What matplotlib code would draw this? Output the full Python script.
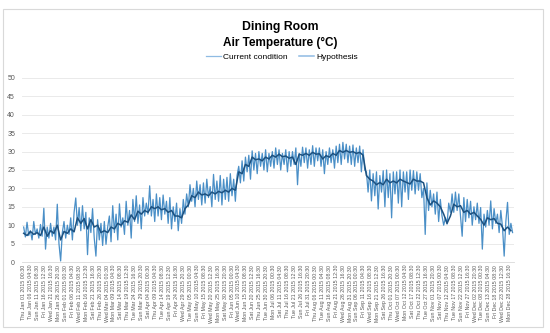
import numpy as np
import pandas as pd
import matplotlib
matplotlib.use("Agg")
import matplotlib.pyplot as plt
from matplotlib.patches import Rectangle

plt.rcParams['font.family'] = ['Liberation Sans', 'DejaVu Sans']

# values (highs and lows of the hourly trace)
cur_days = np.arange(0, 365, 1.25)
current = [9.5, 6.8, 10.8, 7.2, 8.5, 6.0, 11.0, 7.5, 9.0, 6.5, 10.2, 7.0, 14.6, 3.5, 9.5, 6.5,
           10.5, 7.0, 9.5, 6.0, 15.7, 5.0, 0.3, 8.0, 11.0, 6.5, 10.0, 7.5, 12.0, 6.0, 13.5, 17.4,
           10.0, 14.8, 8.5, 15.3, 9.0, 13.5, 2.0, 12.0, 8.0, 14.5, 6.5, 1.6, 11.5, 6.0, 10.5, 4.5,
           11.0, 4.8, 9.5, 12.5, 5.5, 15.3, 8.0, 13.0, 6.0, 15.8, 9.5, 12.0, 7.5, 16.5, 10.0, 14.0,
           6.5, 17.0, 11.0, 18.0, 10.5, 15.5, 9.0, 17.5, 12.5, 16.0, 13.0, 20.7, 12.5, 17.0, 11.0, 18.5,
           12.5, 17.5, 11.5, 18.2, 13.0, 16.5, 10.5, 17.5, 9.0, 15.0, 11.0, 16.0, 8.5, 14.5, 10.5, 17.0,
           13.0, 18.5, 15.0, 21.0, 16.5, 20.0, 15.0, 22.0, 17.0, 21.0, 15.5, 21.5, 16.0, 22.5, 17.5, 20.5,
           15.0, 23.8, 17.0, 22.0, 16.5, 23.5, 15.5, 22.5, 17.0, 23.0, 16.5, 24.0, 18.0, 22.5, 16.5, 23.5,
           26.0, 21.5, 27.5, 22.0, 28.5, 24.5, 29.0, 22.5, 30.2, 25.0, 29.5, 24.0, 30.0, 26.0, 29.5, 25.0,
           30.5, 24.5, 29.5, 26.0, 30.0, 25.5, 31.0, 26.5, 30.5, 25.0, 29.5, 26.5, 30.5, 24.5, 30.0, 26.0,
           30.0, 26.5, 31.0, 21.0, 29.5, 26.0, 31.2, 27.0, 31.0, 25.5, 30.5, 26.5, 31.6, 26.0, 31.0, 27.5,
           31.0, 26.0, 30.5, 24.0, 30.0, 26.5, 31.0, 27.0, 30.5, 25.5, 31.5, 27.0, 32.0, 26.5, 32.5, 28.0,
           32.0, 27.0, 31.5, 26.5, 31.8, 26.0, 31.0, 27.0, 31.5, 24.5, 30.5, 25.0, 24.5, 19.0, 25.0, 16.6,
           24.0, 18.0, 24.5, 14.4, 23.5, 19.0, 24.8, 15.0, 25.0, 17.5, 24.0, 12.0, 24.5, 18.5, 24.5, 16.0,
           25.0, 15.0, 24.5, 19.0, 24.5, 17.0, 25.0, 19.5, 24.8, 18.5, 24.5, 19.5, 24.0, 17.5, 20.0, 7.5,
           21.5, 14.0, 19.5, 15.0, 18.5, 13.0, 19.0, 11.0, 17.0, 12.5, 10.0, 12.0, 10.3, 16.0, 13.5, 18.5,
           13.5, 19.0, 14.0, 18.5, 12.5, 7.0, 17.5, 11.0, 17.0, 12.0, 16.5, 10.0, 15.0, 11.5, 16.0, 10.5,
           14.8, 3.5, 13.0, 9.5, 14.0, 10.0, 16.6, 9.0, 14.5, 10.5, 13.0, 8.0, 14.0, 9.5, 1.6, 11.0,
           16.2, 7.5, 10.5, 8.0]

hyp_days = np.arange(0, 365, 2.5)
hypothesis = [7.8, 7.2, 8.3, 7.5, 8.0, 7.2, 9.5, 7.0,
              8.5, 7.8, 10.0, 6.0, 8.3, 7.8, 9.0, 8.2,
              12.0, 10.5, 11.8, 9.0, 11.5, 9.5, 10.0, 8.0,
              8.5, 8.0, 9.5, 9.0, 10.5, 10.0, 11.2, 10.8,
              12.8, 11.5, 13.8, 13.0, 14.0, 13.5, 15.0, 14.5,
              15.0, 14.2, 14.5, 13.5, 14.0, 12.5, 12.5, 12.0,
              14.5, 15.5, 18.0, 17.5, 19.0, 18.2, 18.5, 18.0,
              19.0, 18.5, 19.2, 18.8, 19.5, 19.0, 20.0, 19.5,
              24.5, 24.0, 26.5, 26.0, 28.5, 27.8, 28.0, 27.5,
              28.5, 28.0, 29.0, 28.5, 29.3, 28.6, 28.8, 28.2,
              28.5, 26.5, 29.3, 29.0, 29.5, 29.0, 29.8, 29.3,
              29.4, 28.0, 28.9, 28.5, 29.5, 29.0, 30.3, 29.8,
              30.3, 29.8, 30.0, 29.5, 29.8, 29.0, 23.5, 22.5,
              22.0, 21.0, 21.6, 21.0, 22.5, 21.5, 22.0, 21.5,
              22.5, 22.0, 21.6, 21.2, 22.5, 22.0, 22.0, 21.5,
              17.5, 15.5, 16.6, 16.0, 15.0, 13.0, 10.5, 12.5,
              15.7, 15.0, 15.3, 13.5, 14.0, 13.0, 13.5, 12.5,
              11.6, 10.0, 12.0, 11.5, 11.8, 10.5, 10.3, 8.5,
              9.5, 8.5]

# x tick labels every 124 hours, like the excel export
tick_hours = np.arange(0, 8760, 124)
tick_labels = [d.strftime("%a %b %d %Y %H:%M")
               for d in pd.Timestamp("2015-01-01 00:30") + pd.to_timedelta(tick_hours, unit="h")]

fig = plt.figure(figsize=(5.5, 3.33), dpi=100)
fig.patches.append(Rectangle((3/550, 6/333), 540/550, 318/333, transform=fig.transFigure,
                             fill=False, edgecolor="#d9d9d9", linewidth=0.8))
ax = fig.add_axes([0.04, 0.2132, 0.895, 0.5526])

ax.plot(cur_days * 24, current, color="#4a8fc7", linewidth=0.9, label="Current condition")
ax.plot(hyp_days * 24, hypothesis, color="#1c5180", linewidth=1.1, label="Hypothesis")

ax.set_xlim(-30, 8760)
ax.set_ylim(0, 50)
ax.set_yticks(range(0, 51, 5))
ax.set_xticks(tick_hours)
ax.set_xticklabels(tick_labels, rotation=90, fontsize=3.8, color="#595959")
ax.tick_params(axis="y", labelsize=5, colors="#595959", length=0, pad=5)
ax.tick_params(axis="x", length=0, pad=2)
ax.grid(axis="y", color="#e6e6e6", linewidth=0.6)
ax.set_axisbelow(True)
for s in ["top", "right", "left"]:
    ax.spines[s].set_visible(False)
ax.spines["bottom"].set_color("#d9d9d9")
ax.spines["bottom"].set_linewidth(0.6)

fig.text(0.51, 0.92, "Dining Room", ha="center", va="center", fontsize=8.8, fontweight="bold")
fig.text(0.51, 0.872, "Air Temperature (°C)", ha="center", va="center", fontsize=8.5, fontweight="bold")
leg = fig.legend(loc="center", bbox_to_anchor=(0.512, 0.83), ncol=2, frameon=False,
                 fontsize=6, handlelength=1.8, columnspacing=1.3, handletextpad=0.3)
for h in leg.get_lines():
    h.set_color("#8fbbe3")

fig.savefig("out.png", dpi=100)
